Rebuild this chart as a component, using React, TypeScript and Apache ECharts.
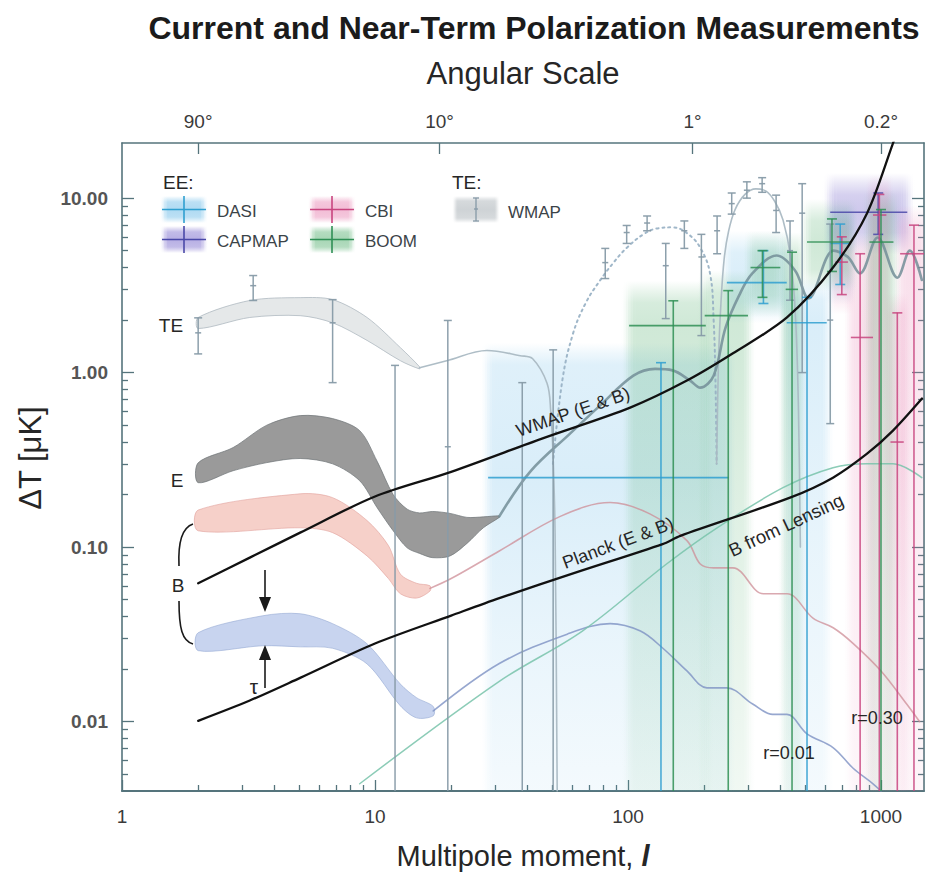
import React, { useEffect, useRef } from "react";
import * as echarts from "echarts";

const FONT = '"Liberation Sans", Arial, Helvetica, sans-serif';
const FRAME = "#55747c";
const TEXT = "#262626";

const X_MIN = 1;
const X_MAX = 1479;
const Y_MIN = 0.004;
const Y_MAX = 20.7;

// ---- axis ticks ----
const xMajorTicks = [1, 10, 100, 1000];
const xMinorTicks = [2, 3, 4, 5, 6, 7, 8, 9, 20, 30, 40, 50, 60, 70, 80, 90, 200, 300, 400, 500, 600, 700, 800, 900];
const yMajorTicks = [0.01, 0.1, 1, 10];
const yMinorTicks = [0.005, 0.006, 0.007, 0.008, 0.009, 0.02, 0.03, 0.04, 0.05, 0.06, 0.07, 0.08, 0.09, 0.2, 0.3, 0.4, 0.5, 0.6, 0.7, 0.8, 0.9, 2, 3, 4, 5, 6, 7, 8, 9];
const angleTickValues = [2, 18, 180, 1000];
const angleTickLabels = ["90°", "10°", "1°", "0.2°"];

// ---- sensitivity curves [l, dT] ----
const wmapSensitivity = [[2, 0.062], [3.2, 0.087], [5.06, 0.121], [10, 0.195], [20, 0.27], [46, 0.42], [102, 0.63], [171, 0.9], [260, 1.29], [425, 2.07], [646, 4.0], [881, 8.2], [1115, 20.6], [1200, 28]];
const planckSensitivity = [[2, 0.0101], [3.2, 0.0132], [5.06, 0.0178], [10, 0.028], [20, 0.0405], [31, 0.051], [65, 0.073], [137, 0.104], [161, 0.116], [437, 0.192], [646, 0.25], [881, 0.343], [1115, 0.465], [1452, 0.71]];

// ---- theory bands [l, low, high] ----
const teBand = [[2, 1.79, 2.07], [3.2, 2.07, 2.59], [5.06, 2.12, 2.69], [6.8, 1.93, 2.62], [9.3, 1.53, 2.07], [12.6, 1.17, 1.39], [15, 1.05, 1.08]];
const eBand = [[2, 0.234, 0.304], [2.75, 0.274, 0.372], [3.74, 0.305, 0.5], [5.06, 0.322, 0.567], [6.8, 0.3, 0.545], [8.7, 0.24, 0.465], [10.2, 0.168, 0.31], [11.8, 0.124, 0.2], [13.4, 0.099, 0.165], [15, 0.092, 0.157], [16.9, 0.087, 0.16], [19.8, 0.089, 0.156], [23.1, 0.105, 0.148], [26.8, 0.129, 0.149], [31, 0.148, 0.151]];
const bBandR030 = [[2, 0.124, 0.163], [5.06, 0.129, 0.202], [6.8, 0.121, 0.192], [9.3, 0.089, 0.142], [11.3, 0.066, 0.102], [12.6, 0.054, 0.07], [14.6, 0.051, 0.062], [16.5, 0.056, 0.06]];
const bBandR001 = [[2, 0.0255, 0.0323], [3.6, 0.0272, 0.0404], [5.06, 0.0268, 0.0415], [6.8, 0.0263, 0.0364], [9.3, 0.0214, 0.0279], [12.6, 0.0123, 0.0164], [14.6, 0.0105, 0.0137], [17, 0.0108, 0.0122]];

// ---- theory lines [l, dT] ----
const teLine = [[15, 1.065], [19.2, 1.17], [27.7, 1.34], [37.5, 1.25], [42, 1.2], [47.9, 0.865], [49.5, 0.6], [50.5, 0.35], [51.5, 0.12], [52.5, 0.004]];
const teNegDotted = [[50.5, 0.3], [55, 0.9], [60.6, 1.67], [68, 2.5], [77.5, 3.37], [88, 4.3], [99, 5.2], [115, 6.2], [130, 6.7], [150, 6.8], [171, 6.3], [193, 5.2], [211, 3.7], [218, 2.0], [222, 0.8], [224, 0.3]];
const tePeak = [[224, 0.3], [228, 1.2], [233, 2.5], [240, 4.5], [250, 6.5], [265, 8.6], [290, 10.5], [320, 11.3], [350, 11.0], [380, 9.6], [410, 7.5], [440, 4.5], [460, 2.0], [472, 0.6], [480, 0.1]];
const eeLine = [[31, 0.15], [41, 0.27], [59, 0.447], [77.5, 0.647], [105, 0.96], [128, 1.05], [150, 1.03], [176, 0.9], [193, 0.82], [218, 0.96], [243, 1.81], [275, 2.77], [310, 3.7], [387, 4.69], [458, 3.84], [517, 2.66], [650, 5.0], [740, 4.6], [826, 3.7], [970, 5.95], [1160, 3.5], [1300, 5.0], [1450, 3.4]];
const bLineR030 = [[16.5, 0.058], [20, 0.066], [31, 0.095], [54, 0.15], [85, 0.18], [122, 0.155], [171, 0.109], [193, 0.08], [218, 0.076], [260, 0.076], [343, 0.054], [425, 0.054], [540, 0.039], [647, 0.0345], [777, 0.028], [1000, 0.0195], [1263, 0.0126], [1420, 0.01]];
const bLineR001 = [[17, 0.0115], [31, 0.0215], [57.5, 0.0317], [85, 0.0364], [112, 0.033], [137, 0.0264], [171, 0.0195], [205, 0.0156], [246, 0.0156], [311, 0.0126], [373, 0.011], [425, 0.011], [510, 0.0085], [646, 0.0071], [776, 0.0054], [930, 0.0044], [1000, 0.004]];
const bLensing = [[8.7, 0.0044], [31, 0.017], [66, 0.033], [142, 0.08], [225, 0.129], [410, 0.219], [646, 0.285], [880, 0.3], [1115, 0.3], [1450, 0.25]];

// ---- WMAP TE points [l, value, low, high] ----
const wmapTE = [[2, 1.69, 1.28, 2.06], [3.3, 3.15, 2.59, 3.6], [6.8, 1.93, 0.876, 2.62], [19.4, 0.376, 0.004, 1.99], [81.3, 4.27, 3.46, 5.15], [98.8, 6.35, 5.5, 6.97], [119, 7.2, 6.5, 7.9], [141, 4.1, 2.04, 5.5], [167, 6.5, 5.15, 7.4], [195, 4.6, 1.63, 6.2], [225, 6.5, 4.8, 7.9], [257, 9.3, 8.1, 10.7], [295, 11.1, 10.0, 12.4], [339, 12.1, 10.8, 13.1], [385, 8.5, 6.35, 10.4], [437, 5.0, 2.6, 7.4], [488, 8.2, 1.0, 12.1], [630, 2.0, 0.51, 7.1]];
// upper limits only [l, high]
const wmapTEUpper = [[12, 1.1], [38.2, 0.876], [50.6, 1.35]];

// ---- EE band powers [l, lLow, lHigh, value, low, high] ----
const dasiEE = [[135, 28, 250, 0.25, 0.004, 1.14], [343, 246, 424, 3.28, 2.49, 5.0], [510, 424, 610, 1.93, 0.004, 2.7], [690, 630, 760, 5.5, 3.2, 7.1]];
const capmapEE = [[975, 630, 1270, 8.3, 6.2, 10.7]];
const cbiEE = [[700, 660, 740, 4.3, 2.8, 6.0], [827, 760, 930, 1.59, 0.004, 4.8], [985, 930, 1050, 8.0, 0.004, 10.5], [1160, 1090, 1230, 0.4, 0.004, 2.2], [1350, 1190, 1480, 4.8, 0.004, 7.0]];
const boomEE = [[151, 101, 203, 1.86, 0.004, 2.58], [249, 201, 298, 2.12, 0.004, 2.95], [340, 305, 400, 4.0, 2.7, 5.0], [445, 420, 470, 3.0, 0.004, 4.9], [640, 510, 760, 5.6, 3.8, 7.6], [1000, 900, 1120, 5.6, 0.004, 8.6]];

const experiments = [
  { name: "DASI", data: dasiEE, line: "#2f9fd0", rgb: [110, 188, 232], peak: 0.26 },
  { name: "CAPMAP", data: capmapEE, line: "#4a48a8", rgb: [125, 110, 205], peak: 0.38 },
  { name: "CBI", data: cbiEE, line: "#c8457f", rgb: [232, 135, 180], peak: 0.26 },
  { name: "BOOM", data: boomEE, line: "#2f8f55", rgb: [95, 180, 120], peak: 0.3 },
];

const rgba = (rgb: number[], a: number) => `rgba(${rgb[0]},${rgb[1]},${rgb[2]},${a.toFixed(3)})`;

// soft-edged box built from columns with vertical gradients
function softBox(x0: number, x1: number, y0: number, y1: number, yc: number, rgb: number[], peak: number, toBottom: boolean, edge = 14, fade = 22) {
  const H = Math.max(1, y1 - y0);
  const ft = Math.min(0.45, fade / H);
  const fb = Math.min(0.45, fade / H);
  const tc = Math.min(0.95, Math.max(ft, (yc - y0) / H));
  const stops = (m: number) => {
    const a = peak * m;
    const s: any[] = [
      { offset: 0, color: rgba(rgb, 0) },
      { offset: ft * 0.5, color: rgba(rgb, a * 0.45) },
      { offset: ft, color: rgba(rgb, a * 0.85) },
      { offset: tc, color: rgba(rgb, a) },
    ];
    if (toBottom) {
      s.push({ offset: tc + (1 - tc) * 0.5, color: rgba(rgb, a * 0.6) });
      s.push({ offset: 1, color: rgba(rgb, a * 0.3) });
    } else {
      s.push({ offset: Math.max(tc, 1 - fb), color: rgba(rgb, a * 0.85) });
      s.push({ offset: Math.max(tc, 1 - fb * 0.5), color: rgba(rgb, a * 0.45) });
      s.push({ offset: 1, color: rgba(rgb, 0) });
    }
    return s;
  };
  const W = x1 - x0;
  const steps = 6;
  const e = Math.min(edge, W / 3);
  const sw = e / steps;
  const mk = (a: number, b: number, m: number) => ({
    type: "rect",
    shape: { x: a, y: y0, width: Math.max(0.1, b - a), height: H },
    style: { fill: new echarts.graphic.LinearGradient(0, 0, 0, 1, stops(m)) },
  });
  const out: any[] = [mk(x0 + e, x1 - e, 1)];
  for (let k = 0; k < steps; k++) {
    const u = (k + 0.5) / steps;
    const m = u * u * (3 - 2 * u);
    out.push(mk(x0 + k * sw, x0 + (k + 1) * sw, m));
    out.push(mk(x1 - (k + 1) * sw, x1 - k * sw, m));
  }
  return out;
}

function bandSeries(name: string, data: number[][], fill: string, stroke: string, z: number) {
  return {
    type: "custom",
    name,
    data,
    z,
    silent: true,
    renderItem: (params: any, api: any) => {
      if (params.dataIndex !== 0) return null;
      const top = data.map((d) => api.coord([d[0], d[2]]));
      const bot = data.map((d) => api.coord([d[0], d[1]])).reverse();
      return {
        type: "polygon",
        shape: { points: top.concat(bot), smooth: 0.3 },
        style: { fill, stroke, lineWidth: 1 },
      };
    },
  };
}

function lineSeries(name: string, data: number[][], color: string, width: number, z: number, type: any = "solid", smooth: number = 0.35) {
  return {
    type: "line",
    name,
    data,
    z,
    silent: true,
    showSymbol: false,
    symbol: "none",
    smooth,
    clip: true,
    lineStyle: { color, width, type, cap: "round" },
  };
}

function expShadeSeries(e: any) {
  return {
    type: "custom",
    name: e.name + " shade",
    data: e.data,
    z: 1,
    silent: true,
    clip: true,
    renderItem: (params: any, api: any) => {
      const lc = api.value(0), ll = api.value(1), lh = api.value(2);
      const v = api.value(3), vl = api.value(4), vh = api.value(5);
      const pc = api.coord([lc, v]);
      const pl = api.coord([ll, v]);
      const ph = api.coord([lh, v]);
      const pt = api.coord([lc, vh]);
      const pb = api.coord([lc, vl]);
      const toBottom = vl <= Y_MIN * 1.05;
      const x0 = pl[0] - 8, x1 = ph[0] + 8;
      const y0 = pt[1] - 20, y1 = pb[1] + (toBottom ? 0 : 20);
      return { type: "group", children: softBox(x0, x1, y0, y1, pc[1], e.rgb, e.peak, toBottom) };
    },
  };
}

function expBarSeries(e: any) {
  return {
    type: "custom",
    name: e.name,
    data: e.data,
    z: 6,
    silent: true,
    clip: true,
    renderItem: (params: any, api: any) => {
      const lc = api.value(0), ll = api.value(1), lh = api.value(2);
      const v = api.value(3), vl = api.value(4), vh = api.value(5);
      const pc = api.coord([lc, v]);
      const pl = api.coord([ll, v]);
      const ph = api.coord([lh, v]);
      const pt = api.coord([lc, vh]);
      const pb = api.coord([lc, vl]);
      const st = { stroke: e.line, lineWidth: 1.6, opacity: 0.85 };
      const ch: any[] = [
        { type: "line", shape: { x1: pl[0], y1: pc[1], x2: ph[0], y2: pc[1] }, style: st },
        { type: "line", shape: { x1: pc[0], y1: pt[1], x2: pc[0], y2: pb[1] }, style: st },
        { type: "line", shape: { x1: pc[0] - 5, y1: pt[1], x2: pc[0] + 5, y2: pt[1] }, style: st },
      ];
      if (vl > Y_MIN * 1.05) ch.push({ type: "line", shape: { x1: pc[0] - 5, y1: pb[1], x2: pc[0] + 5, y2: pb[1] }, style: st });
      return { type: "group", children: ch };
    },
  };
}

const TE_BAR = "rgba(135,155,168,0.95)";

function teBarSeries() {
  return {
    type: "custom",
    name: "WMAP TE",
    data: wmapTE,
    z: 5,
    silent: true,
    clip: true,
    renderItem: (params: any, api: any) => {
      const l = api.value(0), v = api.value(1), lo = api.value(2), hi = api.value(3);
      const pc = api.coord([l, v]);
      const pl = api.coord([l, lo]);
      const ph = api.coord([l, hi]);
      const st = { stroke: TE_BAR, lineWidth: 1.5 };
      const ch: any[] = [
        { type: "line", shape: { x1: pc[0], y1: pl[1], x2: pc[0], y2: ph[1] }, style: st },
        { type: "line", shape: { x1: pc[0] - 4, y1: ph[1], x2: pc[0] + 4, y2: ph[1] }, style: st },
        { type: "line", shape: { x1: pc[0] - 3, y1: pc[1], x2: pc[0] + 3, y2: pc[1] }, style: st },
      ];
      if (lo > Y_MIN * 1.05) ch.push({ type: "line", shape: { x1: pc[0] - 4, y1: pl[1], x2: pc[0] + 4, y2: pl[1] }, style: st });
      return { type: "group", children: ch };
    },
  };
}

function teUpperSeries() {
  return {
    type: "custom",
    name: "WMAP TE upper",
    data: wmapTEUpper,
    z: 5,
    silent: true,
    clip: true,
    renderItem: (params: any, api: any) => {
      const l = api.value(0), hi = api.value(1);
      const ph = api.coord([l, hi]);
      const pb = api.coord([l, Y_MIN]);
      const st = { stroke: TE_BAR, lineWidth: 1.5 };
      return {
        type: "group",
        children: [
          { type: "line", shape: { x1: ph[0], y1: pb[1], x2: ph[0], y2: ph[1] }, style: st },
          { type: "line", shape: { x1: ph[0] - 4, y1: ph[1], x2: ph[0] + 4, y2: ph[1] }, style: st },
        ],
      };
    },
  };
}

function legendGraphics() {
  const els: any[] = [];
  const swW = 48, swH = 27;
  const pos = [[160, 196], [160, 226], [308, 196], [308, 226]];
  experiments.forEach((e, i) => {
    const [x, y] = [pos[i][0], pos[i][1]];
    els.push({
      type: "group", x, y, children: [
        ...softBox(0, swW, 0, swH, swH / 2, e.rgb, 0.55, false, 8, 6),
        { type: "line", shape: { x1: 2, y1: swH / 2, x2: swW - 2, y2: swH / 2 }, style: { stroke: e.line, lineWidth: 1.6 } },
        { type: "line", shape: { x1: swW / 2, y1: 0, x2: swW / 2, y2: swH }, style: { stroke: e.line, lineWidth: 1.6 } },
      ],
    });
    els.push({ type: "text", x: x + 57, y: y + swH / 2 + 2, style: { text: e.name, fontSize: 17, fontFamily: FONT, fill: "#3b4348", verticalAlign: "middle" } });
  });
  els.push({ type: "text", x: 163, y: 182, style: { text: "EE:", fontSize: 19, fontFamily: FONT, fill: TEXT, verticalAlign: "middle" } });
  els.push({ type: "text", x: 452, y: 182, style: { text: "TE:", fontSize: 19, fontFamily: FONT, fill: TEXT, verticalAlign: "middle" } });
  els.push({
    type: "group", x: 452, y: 196, children: [
      ...softBox(0, 48, 0, 27, 13.5, [190, 196, 200], 0.75, false, 6, 5),
      { type: "line", shape: { x1: 24, y1: 2, x2: 24, y2: 25 }, style: { stroke: TE_BAR, lineWidth: 1.4 } },
      { type: "line", shape: { x1: 21, y1: 2, x2: 27, y2: 2 }, style: { stroke: TE_BAR, lineWidth: 1.4 } },
      { type: "line", shape: { x1: 21, y1: 25, x2: 27, y2: 25 }, style: { stroke: TE_BAR, lineWidth: 1.4 } },
      { type: "line", shape: { x1: 22, y1: 13, x2: 26, y2: 13 }, style: { stroke: TE_BAR, lineWidth: 1.4 } },
    ],
  });
  els.push({ type: "text", x: 508, y: 212, style: { text: "WMAP", fontSize: 17, fontFamily: FONT, fill: "#3b4348", verticalAlign: "middle" } });
  return els;
}

function annotationGraphics() {
  const t = (text: string, x: number, y: number, size: number, rot = 0) => ({
    type: "text", x, y, rotation: rot, z: 100,
    style: { text, fontSize: size, fontFamily: FONT, fill: TEXT, align: "center", verticalAlign: "middle" },
  });
  const deg = Math.PI / 180;
  const ink = { stroke: "#1a1a1a", lineWidth: 1.6, fill: "none" };
  return [
    t("ΔT [μK]", 30, 458, 31, 90 * deg),
    t("TE", 171, 325, 19),
    t("E", 177, 480, 19),
    t("B", 178, 585, 19),
    t("τ", 254, 686, 21),
    t("WMAP (E & B)", 573, 412, 18, 19 * deg),
    t("Planck (E & B)", 618, 543, 18, 20.5 * deg),
    t("B from Lensing", 786, 525, 18.5, 25 * deg),
    t("r=0.01", 789, 753, 18),
    t("r=0.30", 877, 718, 18),
    { type: "bezierCurve", z: 100, shape: { x1: 193, y1: 524, cpx1: 181, cpy1: 528, cpx2: 178, cpy2: 545, x2: 179, y2: 566 }, style: ink },
    { type: "bezierCurve", z: 100, shape: { x1: 179, y1: 601, cpx1: 179, cpy1: 628, cpx2: 182, cpy2: 641, x2: 193, y2: 644 }, style: ink },
    { type: "line", z: 100, shape: { x1: 265, y1: 570, x2: 265, y2: 600 }, style: { stroke: "#1a1a1a", lineWidth: 1.6 } },
    { type: "polygon", z: 100, shape: { points: [[259, 597], [271, 597], [265, 612]] }, style: { fill: "#1a1a1a" } },
    { type: "line", z: 100, shape: { x1: 265, y1: 658, x2: 265, y2: 688 }, style: { stroke: "#1a1a1a", lineWidth: 1.6 } },
    { type: "polygon", z: 100, shape: { points: [[259, 660], [271, 660], [265, 645]] }, style: { fill: "#1a1a1a" } },
  ];
}

function buildOption(): any {
  const lineStyle = { color: FRAME, width: 1.6 };
  const tickStyle = { color: FRAME, width: 1.3 };
  const baseX = { type: "log", logBase: 10, min: X_MIN, max: X_MAX, splitLine: { show: false } };
  const baseY = { type: "log", logBase: 10, min: Y_MIN, max: Y_MAX, splitLine: { show: false } };
  const angleLabel = (v: number) => {
    const i = angleTickValues.findIndex((t) => Math.abs(Math.log10(t) - Math.log10(v)) < 0.01);
    return i >= 0 ? angleTickLabels[i] : "";
  };
  return {
    animation: false,
    backgroundColor: "#ffffff",
    textStyle: { fontFamily: FONT },
    title: [
      {
        text: "Current and Near-Term Polarization Measurements",
        left: 534,
        top: 12,
        padding: 0,
        textAlign: "center",
        textStyle: { fontSize: 32, fontWeight: "bold", color: "#1b1b1b", fontFamily: FONT },
      },
    ],
    grid: { left: 122, top: 143, width: 802, height: 648, containLabel: false, outerBoundsMode: "none" },
    xAxis: [
      {
        ...baseX,
        position: "bottom",
        axisLine: { show: true, onZero: false, lineStyle: { color: FRAME, width: 2 } },
        axisTick: { show: true, inside: true, length: 11, customValues: xMajorTicks, lineStyle: tickStyle },
        axisLabel: { show: true, customValues: xMajorTicks, formatter: (v: number) => String(Math.round(v)), color: "#3a3a3a", fontSize: 19, margin: 16, fontFamily: FONT },
        name: "Multipole moment, {it|l}",
        nameLocation: "middle",
        nameGap: 50,
        nameMoveOverlap: false,
        nameTextStyle: {
          fontSize: 29, color: TEXT, fontFamily: FONT,
          rich: { it: { fontSize: 29, fontStyle: "italic", fontWeight: "bold", color: TEXT, fontFamily: FONT } },
        },
      },
      {
        ...baseX,
        position: "bottom",
        axisLine: { show: false },
        axisTick: { show: true, inside: true, length: 6, customValues: xMinorTicks, lineStyle: tickStyle },
        axisLabel: { show: false },
      },
      {
        ...baseX,
        position: "top",
        axisLine: { show: true, onZero: false, lineStyle },
        axisTick: { show: true, inside: true, length: 11, customValues: angleTickValues, lineStyle: tickStyle },
        axisLabel: { show: true, customValues: angleTickValues, formatter: angleLabel, color: "#3a3a3a", fontSize: 19, margin: 12, fontFamily: FONT },
        name: "Angular Scale",
        nameLocation: "middle",
        nameGap: 54,
        nameMoveOverlap: false,
        nameTextStyle: { fontSize: 31, color: TEXT, fontFamily: FONT },
      },
    ],
    yAxis: [
      {
        ...baseY,
        position: "left",
        axisLine: { show: true, onZero: false, lineStyle },
        axisTick: { show: true, inside: true, length: 12, customValues: yMajorTicks, lineStyle: tickStyle },
        axisLabel: { show: true, customValues: yMajorTicks, formatter: (v: number) => v.toFixed(2), color: "#555", fontWeight: "bold", fontSize: 19, margin: 14, fontFamily: FONT },
      },
      {
        ...baseY,
        position: "left",
        axisLine: { show: false },
        axisTick: { show: true, inside: true, length: 6, customValues: yMinorTicks, lineStyle: tickStyle },
        axisLabel: { show: false },
      },
      {
        ...baseY,
        position: "right",
        axisLine: { show: true, onZero: false, lineStyle },
        axisTick: { show: true, inside: true, length: 12, customValues: yMajorTicks, lineStyle: tickStyle },
        axisLabel: { show: false },
      },
      {
        ...baseY,
        position: "right",
        axisLine: { show: false },
        axisTick: { show: true, inside: true, length: 6, customValues: yMinorTicks, lineStyle: tickStyle },
        axisLabel: { show: false },
      },
    ],
    graphic: [...legendGraphics(), ...annotationGraphics()],
    series: [
      ...experiments.map(expShadeSeries),
      bandSeries("TE band", teBand, "rgba(226,229,231,0.9)", "rgba(175,185,192,0.8)", 2),
      bandSeries("E band", eBand, "rgba(140,140,140,0.88)", "rgba(110,115,118,0.7)", 3),
      bandSeries("B r=0.30 band", bBandR030, "rgba(242,190,180,0.72)", "rgba(225,160,155,0.6)", 2),
      bandSeries("B r=0.01 band", bBandR001, "rgba(190,205,236,0.85)", "rgba(150,170,212,0.6)", 2),
      lineSeries("TE", teLine, "rgba(170,185,195,0.95)", 1.6, 3),
      lineSeries("TE negative", teNegDotted, "rgba(150,175,195,0.9)", 2, 3, [2, 4], 0.4),
      lineSeries("TE peak", tePeak, "rgba(170,185,195,0.95)", 1.6, 3),
      lineSeries("EE", eeLine, "rgba(115,142,152,0.85)", 2.6, 4),
      lineSeries("B r=0.30", bLineR030, "rgba(205,140,150,0.75)", 1.6, 3),
      lineSeries("B r=0.01", bLineR001, "rgba(125,145,195,0.8)", 1.6, 3),
      lineSeries("B from Lensing", bLensing, "rgba(120,195,170,0.85)", 1.5, 3),
      teBarSeries(),
      teUpperSeries(),
      ...experiments.map(expBarSeries),
      lineSeries("WMAP (E & B)", wmapSensitivity, "#111111", 2.3, 8, "solid", 0.3),
      lineSeries("Planck (E & B)", planckSensitivity, "#111111", 2.3, 8, "solid", 0.3),
    ],
  };
}

export default function App() {
  const ref = useRef<HTMLDivElement>(null);
  useEffect(() => {
    const chart = echarts.init(ref.current as HTMLDivElement, null, { renderer: "svg" });
    chart.setOption(buildOption());
    return () => chart.dispose();
  }, []);
  return (
    <div
      ref={ref}
      style={{ position: "absolute", left: 0, top: 0, width: 934, height: 878, background: "#ffffff" }}
    />
  );
}
